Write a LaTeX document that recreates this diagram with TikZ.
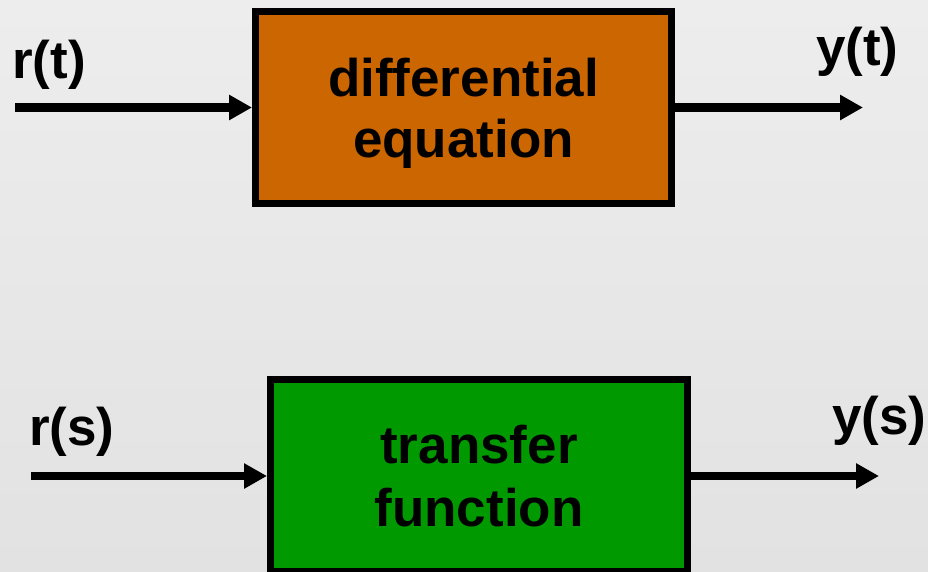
\documentclass[tikz,border=0pt]{standalone}
\usepackage{fontspec}
\setmainfont{Liberation Sans}
\usetikzlibrary{arrows.meta}
\definecolor{bgtop}{HTML}{EDEDED}
\definecolor{bgbot}{HTML}{E2E2E2}
\definecolor{deorange}{HTML}{CC6600}
\definecolor{tfgreen}{HTML}{009900}
\tikzset{
  blockbox/.style={draw=black, line width=7pt, minimum width=416pt, minimum height=192pt, inner sep=0pt},
  blocktext/.style={inner sep=0pt, align=center, font=\fontsize{53}{61}\selectfont\bfseries},
  sigtext/.style={inner sep=0pt, anchor=base west, font=\fontsize{53}{60}\selectfont\bfseries},
  sigarrow/.style={line width=8.5pt, -{Triangle[length=23pt,width=24pt]}}
}
\begin{document}
\begin{tikzpicture}[x=1pt,y=-1pt]
\useasboundingbox (0,0) rectangle (928,571);
\clip (0,0) rectangle (928,571);
\shade[top color=bgtop, bottom color=bgbot] (0,0) rectangle (928,571);
% top block
\node[blockbox, fill=deorange] (de) at (463.5,107.5) {};
\node[blocktext] (detxt) at (463.5,113.5) {differential\\equation};
\coordinate (rtin) at (15,107.5);
\coordinate (ytout) at (863,107.5);
\draw[sigarrow] (rtin) -- (de.west);
\draw[sigarrow] (de.east) -- (ytout);
\node[sigtext] (rt) at (12,78) {r(t)};
\node[sigtext] (yt) at (816,65) {y(t)};
% bottom block
\node[blockbox, fill=tfgreen, minimum width=417pt] (tf) at (479,475.5) {};
\node[blocktext, font=\fontsize{53}{63}\selectfont\bfseries] (tftxt) at (479,476) {transfer\\function};
\coordinate (rsin) at (31,476);
\coordinate (ysout) at (879,476);
\draw[sigarrow] (rsin) -- (tf.west |- rsin);
\draw[sigarrow] (tf.east |- ysout) -- (ysout);
\node[sigtext] (rs) at (29,445) {r(s)};
\node[sigtext] (ys) at (832,434) {y(s)};
\end{tikzpicture}
\end{document}
